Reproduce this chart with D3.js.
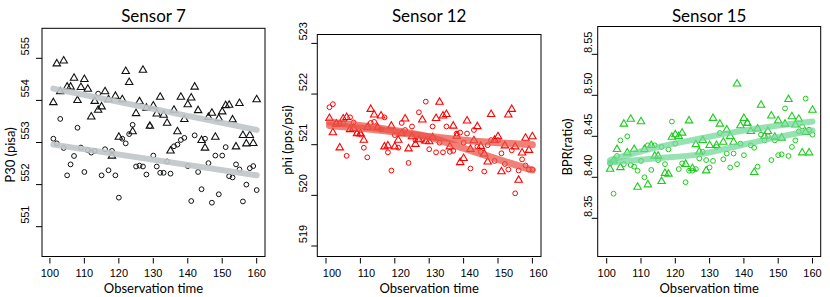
<!DOCTYPE html>
<html>
<head>
<meta charset="utf-8">
<script src="https://cdn.jsdelivr.net/npm/d3@7/dist/d3.min.js"></script>
<style>
  body { margin: 0; background: #fff; }
  svg { display: block; }
  .tick-label { font-family: 'Liberation Sans', Arial, sans-serif; font-size: 11px; }
  .title { font-family: Lato, 'Open Sans', sans-serif; font-size: 17px; }
  .axis-title { font-family: Lato, 'Open Sans', sans-serif; font-size: 13px; }
</style>
</head>
<body>
<svg id="chart" width="830" height="297"></svg>
<script>
const obsTime = [101, 102, 103, 104, 105, 106, 107, 108, 109, 110,
  111, 112, 113, 114, 115, 116, 117, 118, 119, 120,
  121, 122, 123, 124, 125, 126, 127, 128, 129, 130,
  131, 132, 133, 134, 135, 136, 137, 138, 139, 140,
  141, 142, 143, 144, 145, 146, 147, 148, 149, 150,
  151, 152, 153, 154, 155, 156, 157, 158, 159, 160];
const xTicks = [100, 110, 120, 130, 140, 150, 160];

// Sensor 7
const s7Tri = [553.95, 554.87, 554.21, 554.94, 554.32, 554.32, 554.53, 554.00, 554.31, 554.50,
  554.27, 553.61, 553.98, 553.77, 553.85, 554.21, 554.02, 552.68, 554.10, 553.13,
  554.02, 554.69, 554.43, 553.26, 553.69, 553.97, 554.72, 553.82, 553.39, 553.87,
  553.68, 554.08, 553.65, 553.46, 552.80, 553.77, 553.26, 554.08, 553.55, 553.90,
  554.06, 554.32, 553.76, 553.05, 552.87, 553.60, 553.70, 553.13, 553.57, 553.73,
  553.88, 553.89, 553.54, 552.90, 553.93, 553.17, 552.97, 553.17, 552.98, 554.02];
const s7Circ = [553.09, 552.98, 553.56, 552.87, 552.22, 552.48, 552.68, 553.35, 552.88, 552.30,
  552.82, 552.76, 552.80, 554.16, 552.22, 552.84, 552.34, 552.80, 552.22, 551.69,
  553.09, 552.98, 553.20, 553.42, 552.43, 552.45, 552.43, 552.24, 553.39, 552.69,
  552.43, 552.28, 552.28, 552.55, 552.26, 552.91, 552.95, 553.06, 553.11, 552.44,
  551.61, 553.17, 552.30, 551.89, 553.09, 552.51, 551.57, 552.69, 551.77, 552.69,
  552.89, 552.20, 552.17, 552.48, 552.36, 551.60, 552.00, 552.39, 552.44, 551.87];
const s7FitTime = [101, 160];
const s7FitTri = [554.28, 553.30];
const s7FitCirc = [552.95, 552.22];
const s7YTicks = [551, 552, 553, 554, 555];

// Sensor 12
const s12Tri = [521.52, 521.24, 521.41, 520.94, 521.51, 521.54, 521.30, 521.32, 521.22, 521.22,
  521.09, 521.34, 521.70, 521.59, 521.34, 521.57, 520.96, 520.98, 521.37, 520.96,
  521.09, 521.22, 521.51, 520.92, 521.16, 521.01, 521.10, 521.49, 521.07, 521.06,
  521.14, 521.52, 521.84, 521.57, 521.60, 520.96, 521.37, 521.17, 520.65, 520.73,
  521.47, 520.91, 521.08, 521.36, 520.97, 520.82, 520.66, 521.60, 521.09, 521.16,
  520.47, 520.98, 521.59, 521.70, 520.96, 520.30, 520.84, 521.13, 520.89, 521.16];
const s12Circ = [521.74, 521.80, 521.43, 521.42, 521.42, 520.78, 521.54, 521.44, 521.22, 521.20,
  520.94, 520.75, 521.43, 521.45, 521.34, 521.30, 521.54, 520.85, 520.49, 521.19,
  520.94, 521.43, 521.29, 520.64, 521.36, 521.09, 521.64, 521.09, 521.85, 520.91,
  521.36, 520.85, 521.04, 520.85, 521.36, 520.86, 520.88, 521.22, 521.24, 521.04,
  521.22, 520.53, 521.29, 520.96, 520.86, 520.47, 520.99, 521.09, 520.68, 521.09,
  520.83, 520.62, 520.51, 520.89, 520.04, 520.49, 520.71, 520.59, 520.51, 520.51];
const s12FitTime = [101, 115, 130, 140, 150, 160];
const s12FitTri = [521.38, 521.29, 521.16, 521.09, 521.04, 521.00];
const s12FitCirc = [521.45, 521.33, 521.15, 520.93, 520.71, 520.50];
const s12YTicks = [519, 520, 521, 522, 523];

// Sensor 15
const s15Tri = [8.410, 8.420, 8.434, 8.412, 8.465, 8.430, 8.471, 8.434, 8.388, 8.468,
  8.434, 8.391, 8.439, 8.426, 8.426, 8.395, 8.405, 8.404, 8.449, 8.452,
  8.450, 8.454, 8.416, 8.469, 8.411, 8.440, 8.431, 8.445, 8.408, 8.439,
  8.472, 8.439, 8.465, 8.443, 8.458, 8.450, 8.443, 8.514, 8.463, 8.472,
  8.466, 8.456, 8.406, 8.459, 8.488, 8.450, 8.456, 8.475, 8.449, 8.469,
  8.448, 8.465, 8.495, 8.474, 8.464, 8.471, 8.430, 8.455, 8.430, 8.482];
const s15Circ = [8.417, 8.380, 8.426, 8.445, 8.416, 8.450, 8.415, 8.413, 8.408, 8.420,
  8.400, 8.439, 8.409, 8.439, 8.421, 8.437, 8.416, 8.434, 8.468, 8.441,
  8.410, 8.417, 8.394, 8.408, 8.408, 8.410, 8.423, 8.431, 8.421, 8.412,
  8.420, 8.437, 8.454, 8.422, 8.429, 8.412, 8.429, 8.416, 8.441, 8.427,
  8.466, 8.439, 8.436, 8.413, 8.452, 8.445, 8.450, 8.421, 8.445, 8.427,
  8.428, 8.484, 8.426, 8.437, 8.445, 8.456, 8.462, 8.496, 8.458, 8.452];
const s15FitTime = [101, 114, 127, 140, 150, 160];
const s15FitTri = [8.421, 8.436, 8.447, 8.457, 8.463, 8.468];
const s15FitCirc = [8.418, 8.423, 8.428, 8.440, 8.449, 8.457];
const s15YTicks = [8.35, 8.40, 8.45, 8.50, 8.55];

const panels = [
  {
    title: 'Sensor 7', ylab: 'P30 (pisa)', tri: s7Tri, circ: s7Circ,
    fitTime: s7FitTime, fitTri: s7FitTri, fitCirc: s7FitCirc,
    yTicks: s7YTicks, yFmt: d3.format('d'),
    box: { left: 42, top: 28.3, right: 265, bottom: 256.5 },
    xRange: [49.9, 256.7], yRange: [226.7, 58.3],
    labelDx: 0, yTickX: 25, ylabX: 10, ylabY: 155,
    crop: [0, 274],
    color: '#111', fitColor: 'rgba(192,197,201,0.9)', fitWidth: 6
  },
  {
    title: 'Sensor 12', ylab: 'phi (pps/psi)', tri: s12Tri, circ: s12Circ,
    fitTime: s12FitTime, fitTri: s12FitTri, fitCirc: s12FitCirc,
    yTicks: s12YTicks, yFmt: d3.format('d'),
    box: { left: 317.3, top: 34.5, right: 541, bottom: 256.5 },
    xRange: [326, 532.4], yRange: [246, 43.4],
    labelDx: 6, yTickX: 302.7, ylabX: 287.3, ylabY: 140,
    crop: [282, 560],
    color: '#ff0000', fitColor: 'rgba(234,80,68,0.72)', fitWidth: 7
  },
  {
    title: 'Sensor 15', ylab: 'BPR(ratio)', tri: s15Tri, circ: s15Circ,
    fitTime: s15FitTime, fitTri: s15FitTri, fitCirc: s15FitCirc,
    yTicks: s15YTicks, yFmt: d3.format('.2f'),
    box: { left: 597.7, top: 26.5, right: 820.7, bottom: 256.5 },
    xRange: [606.7, 812.5], yRange: [218.3, 54.3],
    labelDx: 0, yTickX: 588.3, ylabX: 567.7, ylabY: 147,
    crop: [562, 830],
    color: '#1ccc1c', fitColor: 'rgba(110,215,150,0.72)', fitWidth: 6
  }
];

const svg = d3.select('#chart');
const defs = svg.append('defs');
const triangle = d3.symbol().type(d3.symbolTriangle).size(24);

panels.forEach((p, i) => {
  defs
    .append('clipPath')
    .attr('id', 'crop' + i)
    .append('rect')
    .attr('x', p.crop[0])
    .attr('y', 0)
    .attr('width', p.crop[1] - p.crop[0])
    .attr('height', 297);

  const g = svg.append('g').attr('clip-path', 'url(#crop' + i + ')');
  const x = d3.scaleLinear().domain([100, 160]).range(p.xRange);
  const y = d3
    .scaleLinear()
    .domain([p.yTicks[0], p.yTicks[p.yTicks.length - 1]])
    .range(p.yRange);
  const b = p.box;

  // points
  g.selectAll('circle.pt')
    .data(p.circ)
    .enter()
    .append('circle')
    .attr('class', 'pt')
    .attr('cx', (d, j) => x(obsTime[j]))
    .attr('cy', d => y(d))
    .attr('r', 2.4)
    .style('fill', 'none')
    .style('stroke', p.color)
    .style('stroke-width', 1);

  g.selectAll('path.tri')
    .data(p.tri)
    .enter()
    .append('path')
    .attr('class', 'tri')
    .attr('d', triangle)
    .attr('transform', (d, j) => 'translate(' + x(obsTime[j]) + ',' + y(d) + ')')
    .style('fill', 'none')
    .style('stroke', p.color)
    .style('stroke-width', 1.1);

  // fitted trend lines
  const line = d3
    .line()
    .x((d, j) => x(p.fitTime[j]))
    .y(d => y(d))
    .curve(d3.curveMonotoneX);
  [p.fitTri, p.fitCirc].forEach(fit => {
    g.append('path')
      .attr('d', line(fit))
      .style('fill', 'none')
      .style('stroke', p.fitColor)
      .style('stroke-width', p.fitWidth)
      .style('stroke-linecap', 'round');
  });

  // box
  g.append('rect')
    .attr('x', b.left)
    .attr('y', b.top)
    .attr('width', b.right - b.left)
    .attr('height', b.bottom - b.top)
    .style('fill', 'none')
    .style('stroke', '#000')
    .style('stroke-width', 1);

  // x axis
  g.selectAll('line.xt')
    .data(xTicks)
    .enter()
    .append('line')
    .attr('x1', d => x(d))
    .attr('x2', d => x(d))
    .attr('y1', b.bottom + 1.5)
    .attr('y2', b.bottom + 7)
    .style('stroke', '#000');
  g.selectAll('text.xt')
    .data(xTicks)
    .enter()
    .append('text')
    .attr('class', 'tick-label')
    .attr('x', d => x(d) + p.labelDx)
    .attr('y', 277)
    .attr('text-anchor', 'middle')
    .text(d => d);

  // y axis
  g.selectAll('line.yt')
    .data(p.yTicks)
    .enter()
    .append('line')
    .attr('x1', b.left - 6)
    .attr('x2', b.left)
    .attr('y1', d => y(d))
    .attr('y2', d => y(d))
    .style('stroke', '#000');
  g.selectAll('text.yt')
    .data(p.yTicks)
    .enter()
    .append('text')
    .attr('class', 'tick-label')
    .attr('transform', d => 'translate(' + p.yTickX + ',' + (y(d) - 12) + ') rotate(-90)')
    .attr('text-anchor', 'middle')
    .attr('dy', '0.35em')
    .text(d => p.yFmt(d));

  // titles
  g.append('text')
    .attr('class', 'title')
    .attr('x', (b.left + b.right) / 2)
    .attr('y', 21.5)
    .attr('text-anchor', 'middle')
    .text(p.title);
  g.append('text')
    .attr('class', 'axis-title')
    .attr('x', (b.left + b.right) / 2)
    .attr('y', 293)
    .attr('text-anchor', 'middle')
    .text('Observation time');
  g.append('text')
    .attr('class', 'axis-title')
    .attr('transform', 'translate(' + p.ylabX + ',' + p.ylabY + ') rotate(-90)')
    .attr('text-anchor', 'middle')
    .attr('dy', '0.35em')
    .text(p.ylab);
});
</script>
</body>
</html>
